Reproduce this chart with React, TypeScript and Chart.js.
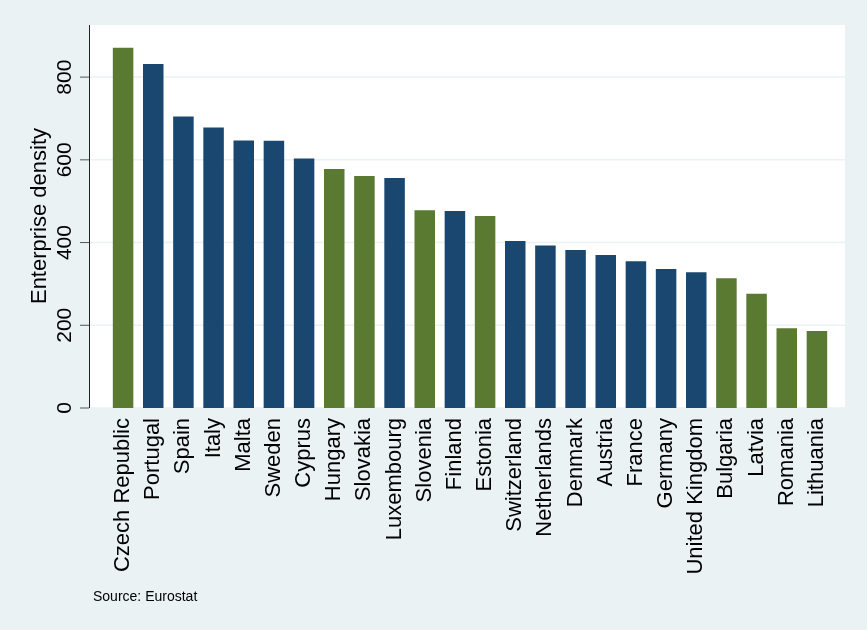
import React, { useEffect, useRef } from 'react';
import Chart from 'chart.js/auto';

const countries = ['Czech Republic', 'Portugal', 'Spain', 'Italy', 'Malta', 'Sweden', 'Cyprus', 'Hungary', 'Slovakia', 'Luxembourg', 'Slovenia', 'Finland', 'Estonia', 'Switzerland', 'Netherlands', 'Denmark', 'Austria', 'France', 'Germany', 'United Kingdom', 'Bulgaria', 'Latvia', 'Romania', 'Lithuania'];
const density = [871, 832, 705, 678, 647, 646, 603, 578, 561, 556, 478, 476, 464, 404, 393, 382, 370, 355, 336, 328, 314, 276, 193, 186];
const newMember = [true, false, false, false, false, false, false, true, true, false, true, false, true, false, false, false, false, false, false, false, true, true, true, true];
const yTicks = [0, 200, 400, 600, 800];

const GREEN = '#5a7a32';
const NAVY = '#1a476f';
const BG = '#eaf2f3';
const FONT = '"Liberation Sans", Arial, sans-serif';

const App: React.FC = () => {
  const canvasRef = useRef<HTMLCanvasElement | null>(null);

  useEffect(() => {
    if (!canvasRef.current) return;
    const chart = new Chart(canvasRef.current, {
      type: 'bar',
      data: {
        labels: countries,
        datasets: [{
          data: density,
          backgroundColor: newMember.map((n) => (n ? GREEN : NAVY)),
          barPercentage: 0.68,
          categoryPercentage: 1,
        }],
      },
      options: {
        animation: false,
        responsive: false,
        layout: { padding: { left: 0, right: 35, top: 25, bottom: 0 } },
        plugins: { legend: { display: false }, tooltip: { enabled: false } },
        scales: {
          x: {
            afterFit: (s: any) => { s.height = 222; },
            grid: { display: false },
            border: { display: false },
            ticks: { color: '#000', font: { family: FONT, size: 22 }, minRotation: 90, maxRotation: 90, padding: 2 },
          },
          y: {
            min: 0,
            max: 926,
            afterFit: (s: any) => { s.width = 108; },
            afterBuildTicks: (s: any) => { s.ticks = yTicks.map((v) => ({ value: v })); },
            grid: { display: false },
            border: { display: false },
            ticks: { display: false },
          },
        },
      },
      plugins: [{
        id: 'deco',
        beforeDraw: (c: any) => {
          const { ctx, chartArea: a } = c;
          const y = c.scales.y;
          const L = a.left - 19;
          const R = a.right + 13;
          ctx.save();
          ctx.fillStyle = BG;
          ctx.fillRect(0, 0, c.width, c.height);
          ctx.fillStyle = '#fff';
          ctx.fillRect(L, a.top, R - L, a.bottom - a.top);
          ctx.strokeStyle = BG;
          ctx.lineWidth = 1.5;
          yTicks.forEach((v) => {
            const p = y.getPixelForValue(v);
            ctx.beginPath(); ctx.moveTo(L, p); ctx.lineTo(R, p); ctx.stroke();
          });
          ctx.restore();
        },
        afterDraw: (c: any) => {
          const { ctx, chartArea: a } = c;
          const y = c.scales.y;
          const L = a.left - 19;
          ctx.save();
          ctx.strokeStyle = '#222';
          ctx.lineWidth = 1;
          ctx.beginPath(); ctx.moveTo(L + 0.5, a.top); ctx.lineTo(L + 0.5, a.bottom); ctx.stroke();
          ctx.strokeStyle = '#555';
          ctx.fillStyle = '#000';
          ctx.font = `21px ${FONT}`;
          ctx.textAlign = 'center';
          ctx.textBaseline = 'middle';
          yTicks.forEach((v) => {
            const p = y.getPixelForValue(v);
            ctx.beginPath(); ctx.moveTo(L - 9, p); ctx.lineTo(L, p); ctx.stroke();
            ctx.save();
            ctx.translate(65, p);
            ctx.rotate(-Math.PI / 2);
            ctx.fillText(String(v), 0, 0);
            ctx.restore();
          });
          ctx.font = `22px ${FONT}`;
          ctx.save();
          ctx.translate(40, 216);
          ctx.rotate(-Math.PI / 2);
          ctx.fillText('Enterprise density', 0, 0);
          ctx.restore();
          ctx.font = `14px ${FONT}`;
          ctx.textAlign = 'left';
          ctx.fillText('Source: Eurostat', 93, 597);
          ctx.restore();
        },
      }],
    });
    return () => chart.destroy();
  }, []);

  return (
    <div style={{ position: 'absolute', left: 0, top: 0, width: 867, height: 630 }}>
      <canvas ref={canvasRef} width={867} height={630} />
    </div>
  );
};

export default App;
